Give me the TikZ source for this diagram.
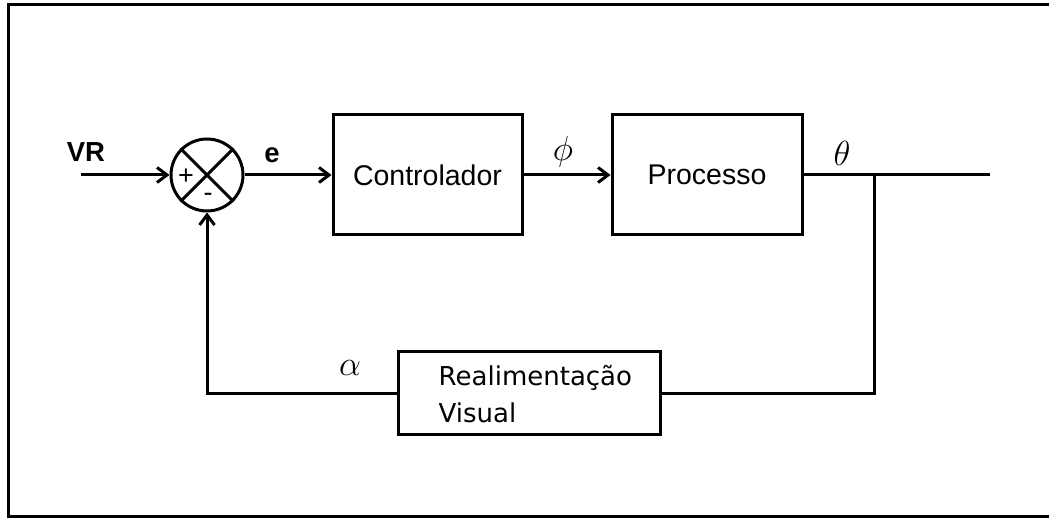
\documentclass[tikz,border=0pt]{standalone}
\usepackage{graphicx}
\usepackage{fontspec}
\newfontfamily\arialf{Liberation Sans}
\newfontfamily\dejavuf{DejaVu Sans}
\usetikzlibrary{arrows.meta}

% large math symbols: the math fonts stop at \Huge, so scale them up
\newcommand{\bigsym}[1]{\scalebox{1.4}{\Huge$#1$}}

\tikzset{
  x=1pt, y=-1pt,
  wire/.style={line width=3pt},
  flow/.style={wire, -{Straight Barb[length=10pt,width=15pt]}},
  blockbox/.style={draw, line width=3pt, minimum width=189pt, minimum height=120pt,
                   inner sep=0pt, font=\arialf\fontsize{28.5}{34}\selectfont},
  sumnode/.style={draw, circle, line width=3pt, minimum size=72pt, inner sep=0pt},
  boldlbl/.style={font=\arialf\bfseries\fontsize{27.5}{32}\selectfont, inner sep=0pt},
  signlbl/.style={font=\arialf\fontsize{27}{30}\selectfont, inner sep=0pt},
  mathlbl/.style={inner sep=0pt},
  fbtext/.style={font=\dejavuf\fontsize{26}{37}\selectfont, align=left, inner sep=0pt}
}

\begin{document}
\begin{tikzpicture}
\useasboundingbox (0,0) rectangle (1049,518);

% outer frame (open on the right)
\draw[line width=3.5pt] (1049,4.5) -- (8.5,4.5) -- (8.5,516.5) -- (1049,516.5);

% summing junction
\node[sumnode] (sum) at (207,175) {};
\draw[wire] (sum.north west) -- (sum.south east);
\draw[wire] (sum.north east) -- (sum.south west);
\node[signlbl] (plus) at (186,177) {+};
\node[signlbl] (minus) at (208,197) {-};

% blocks
\node[blockbox] (ctrl) at (427.5,175) {Controlador};
\node[blockbox, minimum width=190pt] (proc) at (707,175) {Processo};
\node[blockbox, minimum width=262pt, minimum height=82pt] (fb) at (529,393) {};
\node[fbtext, anchor=west] (fbtxt) at ([xshift=42pt,yshift=-1pt]fb.west) {Realimentação\\Visual};

% reference input
\coordinate (vrin) at (81,175);
\node[boldlbl] (vr) at (86,152.5) {VR};
\draw[flow] (vrin) -- (sum.west);

% forward path
\draw[flow] (sum.east) -- (ctrl.west);
\node[boldlbl] (elbl) at (272,155) {e};
\draw[flow] (ctrl.east) -- (proc.west);
\node[mathlbl] (philbl) at (563,152) {\bigsym{\phi}};

% output
\coordinate (outend) at (990,175);
\coordinate (branch) at (874,175);
\draw[wire] (proc.east) -- (outend);
\node[mathlbl] (thetalbl) at (842,153) {\bigsym{\theta}};

% feedback path
\coordinate (fbright) at (874,393);
\coordinate (fbleft) at (207,393);
\draw[wire] (branch) -- (fbright) -- (fb.east);
\draw[flow] (fb.west) -- (fbleft) -- (sum.south);
\node[mathlbl] (alphalbl) at (350,368) {\bigsym{\alpha}};
\end{tikzpicture}
\end{document}
